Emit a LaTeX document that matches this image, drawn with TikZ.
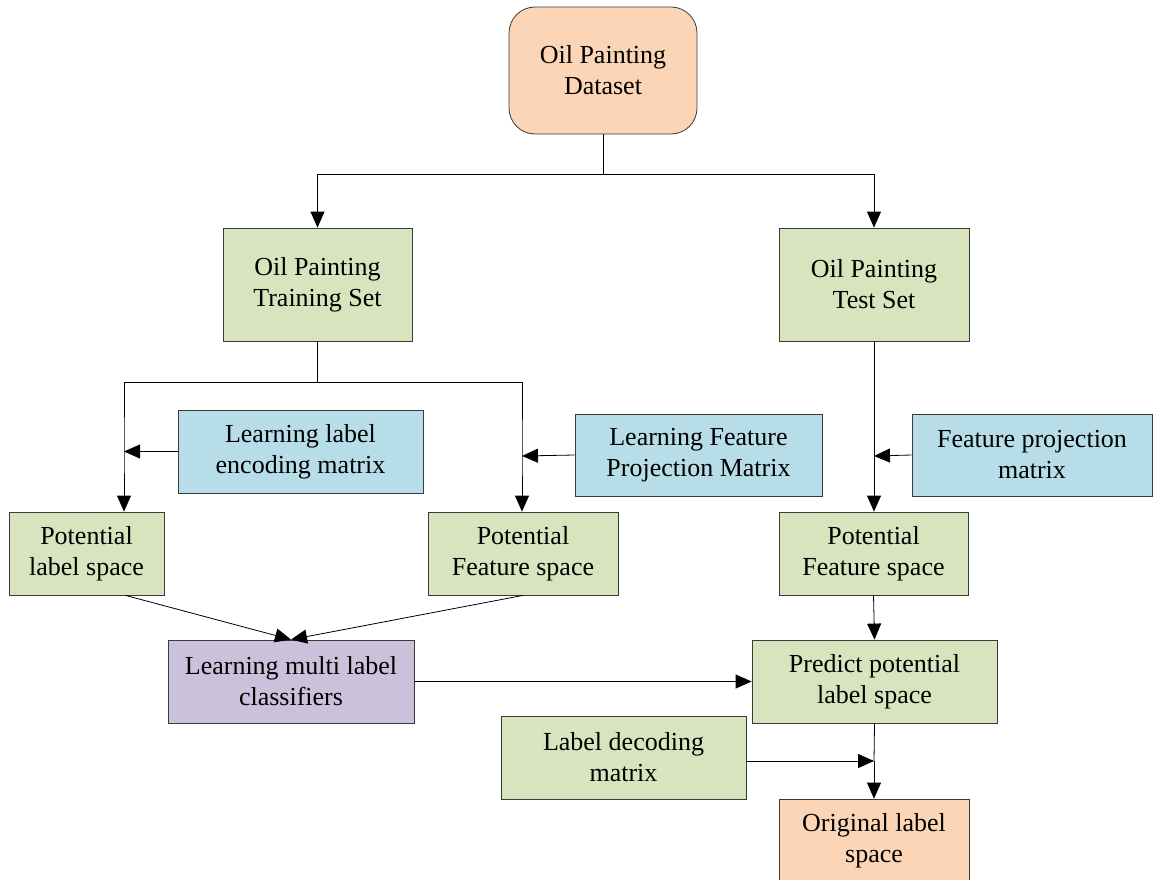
\documentclass[tikz,border=0pt]{standalone}
\usepackage{fontspec}
\setmainfont{Liberation Serif}
\usetikzlibrary{arrows.meta,calc}
\definecolor{cOrange}{HTML}{FBD5B5}
\definecolor{cGreen}{HTML}{D7E4BD}
\definecolor{cBlue}{HTML}{B7DDE8}
\definecolor{cPurple}{HTML}{CCC1DA}
\definecolor{cBorder}{HTML}{3A3A3A}
\begin{document}
\begin{tikzpicture}[x=1pt,y=-1pt,
  box/.style={draw=cBorder,line width=0.8pt,inner sep=0pt,align=center,
    font=\fontsize{26}{31}\selectfont},
  greenbox/.style={box,fill=cGreen},
  bluebox/.style={box,fill=cBlue},
  orangebox/.style={box,fill=cOrange},
  purplebox/.style={box,fill=cPurple},
  conn/.style={draw=black,line width=0.8pt},
  arr/.style={conn,-{Triangle[length=16pt,width=14pt]}}]
\useasboundingbox (0,0) rectangle (1153,880);
% nodes
\node[orangebox,rounded corners=26pt,minimum width=188pt,minimum height=127pt] (data) at (603,70.5) {Oil Painting\\Dataset};
\node[greenbox,minimum width=189pt,minimum height=113pt] (train) at (317.5,284.5) {Oil Painting\\Training Set};
\node[greenbox,minimum width=190pt,minimum height=113pt] (test) at (874,284.5) {Oil Painting\\Test Set};
\node[bluebox,minimum width=245pt,minimum height=83pt] (enc) at (300.5,451.5) {Learning label\\encoding matrix};
\node[bluebox,minimum width=247pt,minimum height=82pt] (lfp) at (698.5,455) {Learning Feature\\Projection Matrix};
\node[bluebox,minimum width=240pt,minimum height=82pt] (fpm) at (1032,455) {Feature projection\\matrix};
\node[greenbox,minimum width=155pt,minimum height=83pt] (lab) at (86.5,553.5) {Potential\\label space};
\node[greenbox,minimum width=190pt,minimum height=83pt] (fsl) at (523,553.5) {Potential\\Feature space};
\node[greenbox,minimum width=189pt,minimum height=83pt] (fsr) at (873.5,553.5) {Potential\\Feature space};
\node[purplebox,minimum width=246pt,minimum height=83pt] (cls) at (291,681.5) {Learning multi label\\classifiers};
\node[greenbox,minimum width=245pt,minimum height=83pt] (pred) at (874.5,681.5) {Predict potential\\label space};
\node[greenbox,minimum width=245pt,minimum height=83pt] (dec) at (623.5,757.5) {Label decoding\\matrix};
\node[orangebox,minimum width=190pt,minimum height=84pt] (orig) at (874,841) {Original label\\space};
% junctions
\coordinate (j1) at (603,174);
\coordinate (j2) at (317.5,382);
\coordinate (jl) at (124,451.5);
\coordinate (jr) at (522,456);
\coordinate (jt) at (874,456);
\coordinate (jd) at (874,761);
% connectors
\draw[conn] (data.south) -- (j1);
\draw[arr] (j1) -| (train.north);
\draw[arr] (j1) -| (test.north);
\draw[conn] (train.south) -- (j2);
\draw[arr] (j2) -| (jl) -- (jl |- lab.north);
\draw[arr] (j2) -| (jr) -- (jr |- fsl.north);
\draw[arr] (enc.west) -- (jl);
\draw[arr] (lfp.west) -- (jr);
\draw[arr] (test.south) -- (jt) -- (jt |- fsr.north);
\draw[arr] (fpm.west) -- (jt);
\draw[arr] ([xshift=39pt]lab.south) -- (cls.north);
\draw[arr] (fsl.south) -- (cls.north);
\draw[arr] (fsr.south) -- (pred.north);
\draw[arr] (cls.east) -- (pred.west);
\draw[conn] (pred.south) -- (jd);
\draw[arr] (jd) -- (orig.north);
\draw[arr] (dec.east |- jd) -- (jd);
\end{tikzpicture}
\end{document}
